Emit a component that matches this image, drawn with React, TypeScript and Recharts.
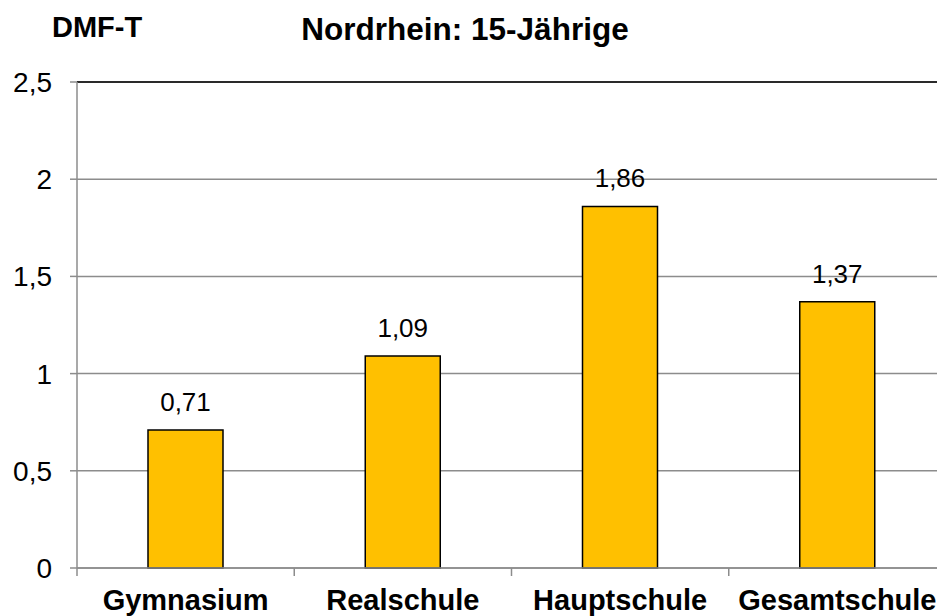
import { BarChart, Bar, XAxis, YAxis, CartesianGrid, LabelList, ReferenceLine } from "recharts";

const categories = ["Gymnasium", "Realschule", "Hauptschule", "Gesamtschule"];
const dmftValues = [0.71, 1.09, 1.86, 1.37];
const yTicks = [0, 0.5, 1, 1.5, 2, 2.5];

const data = categories.map((name, i) => ({ name, value: dmftValues[i] }));

const CHART_W = 950;
const CHART_H = 616;
const Y_AXIS_W = 77;
const MARGIN_RIGHT = 4;
const PLOT_W = CHART_W - Y_AXIS_W - MARGIN_RIGHT;
const FONT = "'Liberation Sans', Arial, sans-serif";

const comma = (v: number | string) => String(v).replace(".", ",");

function CategoryTick(props: any) {
  const { x, y, payload } = props;
  const bw = PLOT_W / categories.length;
  return (
    <g>
      <line x1={x - bw / 2} y1={y} x2={x - bw / 2} y2={y + 8} stroke="#8c8c8c" strokeWidth={1.5} />
      <text x={x} y={y + 42} textAnchor="middle" fontWeight="bold" fontSize={29} fill="#000" fontFamily={FONT}>
        {payload.value}
      </text>
    </g>
  );
}

export default function App() {
  return (
    <div style={{ position: "absolute", left: 0, top: 0, width: 937, height: 616, overflow: "hidden", background: "#fff" }}>
      <BarChart
        width={CHART_W}
        height={CHART_H}
        data={data}
        margin={{ top: 82, right: MARGIN_RIGHT, left: 0, bottom: 0 }}
        style={{ fontFamily: FONT }}
      >
        <CartesianGrid vertical={false} stroke="#8c8c8c" strokeWidth={1.5} />
        <ReferenceLine y={2.5} stroke="#000" strokeWidth={1.5} />
        <YAxis
          width={Y_AXIS_W}
          domain={[0, 2.5]}
          ticks={yTicks}
          tickFormatter={comma}
          tickSize={7}
          tickMargin={18}
          stroke="#8c8c8c"
          strokeWidth={1.5}
          tick={{ fill: "#000", fontSize: 28, fontFamily: FONT }}
          interval={0}
        />
        <XAxis
          dataKey="name"
          height={48}
          tickLine={false}
          tickSize={0}
          tickMargin={0}
          stroke="#8c8c8c"
          strokeWidth={1.5}
          tick={<CategoryTick />}
          interval={0}
        />
        <Bar dataKey="value" fill="#FFC000" stroke="#000" strokeWidth={1.5} barSize={75} isAnimationActive={false}>
          <LabelList dataKey="value" position="top" offset={19} formatter={comma} fill="#000" fontSize={26} fontFamily={FONT} />
        </Bar>
      </BarChart>
      <svg width={937} height={80} style={{ position: "absolute", left: 0, top: 0, pointerEvents: "none" }}>
        <text x={52} y={37} fontWeight="bold" fontSize={29} fontFamily={FONT} fill="#000">DMF-T</text>
        <text x={465} y={40} textAnchor="middle" fontWeight="bold" fontSize={31.5} fontFamily={FONT} fill="#000">
          Nordrhein: 15-Jährige
        </text>
      </svg>
    </div>
  );
}
